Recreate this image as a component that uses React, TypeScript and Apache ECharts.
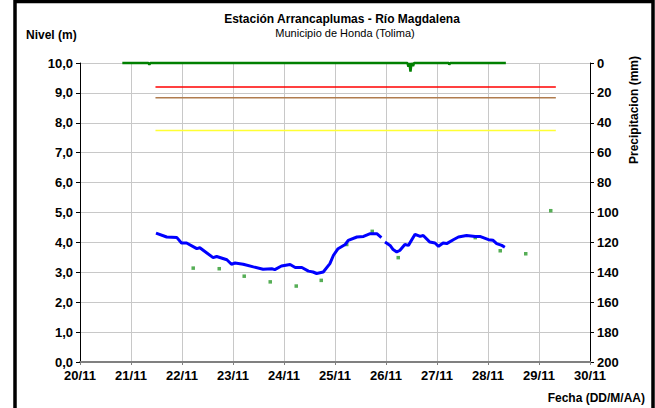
import React, { useEffect, useRef } from "react";
import * as echarts from "echarts";

const FONT = "Liberation Sans";

const titleText = "Estación Arrancaplumas - Río Magdalena";
const subtitleText = "Municipio de Honda (Tolima)";
const leftAxisTitle = "Nivel (m)";
const rightAxisTitle = "Precipitacion (mm)";
const xAxisTitle = "Fecha (DD/M/AA)";

// x values are days of November
const levelBeforeGap: [number, number][] = [
  [21.49, 4.31], [21.7, 4.18], [21.9, 4.16], [21.99, 3.98], [22.09, 3.98],
  [22.29, 3.79], [22.35, 3.82], [22.61, 3.49], [22.68, 3.53], [22.88, 3.42],
  [22.97, 3.27], [23.04, 3.31], [23.2, 3.27], [23.4, 3.18], [23.59, 3.1],
  [23.76, 3.12], [23.82, 3.09], [23.95, 3.21], [24.12, 3.26], [24.22, 3.16],
  [24.35, 3.16], [24.48, 3.04], [24.57, 3.01], [24.64, 2.96], [24.77, 3.01],
  [24.9, 3.29], [24.97, 3.57], [25.06, 3.79], [25.2, 3.93], [25.26, 4.07],
  [25.43, 4.18], [25.56, 4.2], [25.69, 4.29], [25.82, 4.29], [25.91, 4.16],
];

const levelAfterGap: [number, number][] = [
  [25.98, 4.01], [26.08, 3.9], [26.14, 3.76], [26.21, 3.68], [26.27, 3.73],
  [26.37, 3.93], [26.44, 3.9], [26.57, 4.27], [26.67, 4.2], [26.73, 4.23],
  [26.86, 4.01], [26.96, 3.98], [27.03, 3.87], [27.12, 3.98], [27.19, 3.96],
  [27.32, 4.09], [27.42, 4.18], [27.58, 4.23], [27.75, 4.2], [27.84, 4.2],
  [28.01, 4.09], [28.1, 4.07], [28.17, 3.96], [28.27, 3.9], [28.33, 3.84],
];

const manualReadings: [number, number][] = [
  [22.22, 3.14], [22.73, 3.12], [23.22, 2.87], [23.73, 2.68], [24.24, 2.54],
  [24.73, 2.73], [25.23, 3.93], [25.73, 4.37], [26.24, 3.49], [27.75, 4.16],
  [28.24, 3.72], [28.74, 3.62], [29.23, 5.06],
];

const precipitation: [number, number][] = [
  [20.83, 0], [21.34, 0], [21.36, 1], [21.38, 0], [26.42, 0], [26.44, 2.4],
  [26.46, 0], [26.48, 5.8], [26.5, 0], [26.53, 2], [26.55, 0], [27.23, 0],
  [27.24, 1], [27.26, 0], [28.35, 0],
];

const thresholdSpan = [21.48, 29.33];
const thresholdRed = 9.2;
const thresholdOrange = 8.84;
const thresholdYellow = 7.74;

const hLine = (y: number): [number, number][] => [
  [thresholdSpan[0], y],
  [thresholdSpan[1], y],
];

export default function App() {
  const ref = useRef<HTMLDivElement>(null);
  useEffect(() => {
    if (!ref.current) return;
    const chart = echarts.init(ref.current, undefined, { renderer: "svg" });
    const labelStyle = { fontFamily: FONT, fontWeight: "bold" as const, fontSize: 13, color: "#000" };
    chart.setOption({
      animation: false,
      backgroundColor: "#fff",
      grid: { left: 80, right: 65, top: 63, bottom: 46 },
      xAxis: {
        type: "value",
        min: 20,
        max: 30,
        interval: 1,
        axisLine: { onZero: false, lineStyle: { color: "#808080", width: 2 } },
        axisTick: { length: 3, lineStyle: { color: "#808080" } },
        axisLabel: { ...labelStyle, margin: 7, formatter: (v: number) => `${v}/11` },
        splitLine: { show: true, lineStyle: { color: "#c8c8c8", width: 1 } },
      },
      yAxis: [
        {
          type: "value",
          min: 0,
          max: 10,
          interval: 1,
          axisLine: { show: true, lineStyle: { color: "#000", width: 1 } },
          axisTick: { show: true, length: 4, lineStyle: { color: "#000" } },
          axisLabel: {
            ...labelStyle,
            margin: 7,
            formatter: (v: number) => v.toFixed(1).replace(".", ","),
          },
          splitLine: { show: true, lineStyle: { color: "#c8c8c8", width: 1 } },
        },
        {
          type: "value",
          min: 0,
          max: 200,
          interval: 20,
          inverse: true,
          position: "right",
          axisLine: { show: true, lineStyle: { color: "#000", width: 1 } },
          axisTick: { show: true, length: 4, lineStyle: { color: "#000" } },
          axisLabel: { ...labelStyle, margin: 7 },
          splitLine: { show: false },
        },
      ],
      series: [
        {
          type: "line",
          data: hLine(thresholdRed),
          showSymbol: false,
          lineStyle: { color: "#ff0000", width: 1.5 },
          silent: true,
        },
        {
          type: "line",
          data: hLine(thresholdOrange),
          showSymbol: false,
          lineStyle: { color: "#b07c4e", width: 1.5 },
          silent: true,
        },
        {
          type: "line",
          data: hLine(thresholdYellow),
          showSymbol: false,
          lineStyle: { color: "#ffff33", width: 1.5 },
          silent: true,
        },
        {
          type: "line",
          yAxisIndex: 1,
          data: precipitation,
          showSymbol: false,
          clip: false,
          lineStyle: { color: "#008000", width: 2.5 },
        },
        {
          type: "line",
          data: levelBeforeGap,
          showSymbol: false,
          lineStyle: { color: "#0000ff", width: 3 },
        },
        {
          type: "line",
          data: levelAfterGap,
          showSymbol: false,
          lineStyle: { color: "#0000ff", width: 3 },
        },
        {
          type: "scatter",
          data: manualReadings,
          symbol: "rect",
          symbolSize: 3.5,
          itemStyle: { color: "#2c9a2c" },
        },
      ],
      graphic: [
        {
          type: "rect",
          shape: { x: 15, y: 1.5, width: 638, height: 430 },
          style: { fill: "none", stroke: "#000", lineWidth: 3.5 },
          silent: true,
        },
        {
          type: "text",
          x: 342,
          y: 19,
          style: {
            text: titleText,
            font: `bold 12px "${FONT}"`,
            fill: "#000",
            align: "center",
            verticalAlign: "middle",
          },
        },
        {
          type: "text",
          x: 345,
          y: 33,
          style: {
            text: subtitleText,
            font: `11px "${FONT}"`,
            fill: "#000",
            align: "center",
            verticalAlign: "middle",
          },
        },
        {
          type: "text",
          x: 26,
          y: 35,
          style: {
            text: leftAxisTitle,
            font: `bold 12px "${FONT}"`,
            fill: "#000",
            align: "left",
            verticalAlign: "middle",
          },
        },
        {
          type: "text",
          x: 645,
          y: 398,
          style: {
            text: xAxisTitle,
            font: `bold 12px "${FONT}"`,
            fill: "#000",
            align: "right",
            verticalAlign: "middle",
          },
        },
        {
          type: "text",
          x: 634,
          y: 110,
          rotation: Math.PI / 2,
          style: {
            text: rightAxisTitle,
            font: `bold 12px "${FONT}"`,
            fill: "#000",
            align: "center",
            verticalAlign: "middle",
          },
        },
      ],
    });
    return () => chart.dispose();
  }, []);
  return (
    <div
      ref={ref}
      style={{ position: "fixed", left: 0, top: 0, width: 655, height: 408 }}
    />
  );
}
